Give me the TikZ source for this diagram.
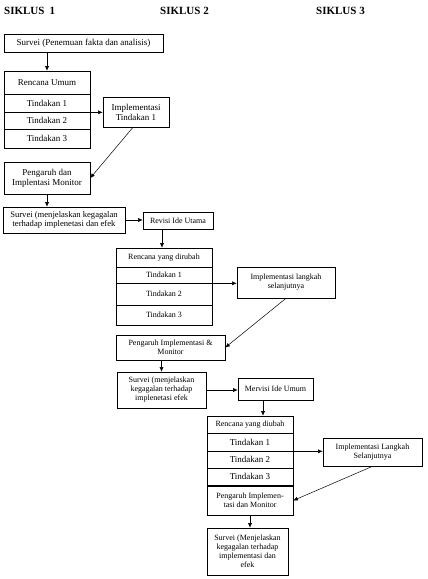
\documentclass[tikz,border=0pt]{standalone}
\usepackage{fontspec}
\setmainfont{Liberation Serif}
\usetikzlibrary{arrows.meta}
\newcommand\bx[6][]{\node[box,#1,minimum width={#4-#2},minimum height={#5-#3}] (#6) at ({(#2+#4)/2},{(#3+#5)/2})}
\begin{document}
\begin{tikzpicture}[x=1pt,y=-1pt,
  box/.style={draw, line width=0.6pt, inner sep=1pt, align=center, font=\fontsize{9}{10}\selectfont},
  sm/.style={font=\fontsize{8}{9}\selectfont},
  md/.style={font=\fontsize{8.6}{9.6}\selectfont},
  hd/.style={anchor=west, inner sep=0pt, font=\bfseries\fontsize{11}{12}\selectfont},
  arr/.style={-{Latex[length=4.5pt,width=4pt]}, line width=0.5pt}]
\useasboundingbox[fill=white] (0,0) rectangle (428,579);
% headers
\node[hd] (h1) at (4,11) {SIKLUS\hspace{5pt}1};
\node[hd] (h2) at (160,11) {SIKLUS 2};
\node[hd] (h3) at (316,11) {SIKLUS 3};
% cycle 1
\bx{4}{34}{163}{52}{s1} {Survei (Penemuan fakta dan analisis)};
\bx{4}{71}{90}{94}{ru} {Rencana Umum};
\bx{4}{94}{90}{112}{t11} {Tindakan 1};
\bx{4}{112}{90}{129}{t12} {Tindakan 2};
\bx{4}{129}{90}{148}{t13} {Tindakan 3};
\bx{103}{97}{169}{127}{it1} {Implementasi\\Tindakan 1};
\bx{4}{162}{90}{194}{pm1} {Pengaruh dan\\Implentasi Monitor};
% cycle 2
\bx[md]{3}{207}{125}{233}{sv1} {Survei (menjelaskan kegagalan\\terhadap implenetasi dan efek};
\bx[sm]{143}{212}{213}{229}{riu} {Revisi Ide Utama};
\bx[sm]{116}{248}{212}{267}{ryd2} {Rencana yang dirubah};
\bx[sm]{116}{267}{212}{283}{t21} {Tindakan 1};
\bx[sm]{116}{283}{212}{305}{t22} {Tindakan 2};
\bx[sm]{116}{305}{212}{325}{t23} {Tindakan 3};
\bx[sm]{237}{267}{335}{298}{ils2} {Implementasi langkah\\selanjutnya};
\bx[sm]{116}{335}{225}{360}{pim2} {Pengaruh Implementasi \&\\Monitor};
\bx[sm]{117}{372}{206}{408}{sv2} {Survei (menjelaskan\\kegagalan terhadap\\implenetasi efek};
\bx[sm]{238}{378}{313}{400}{miu} {Mervisi Ide Umum};
% cycle 3
\bx[sm]{207}{416}{293}{433}{ryd3} {Rencana yang diubah};
\bx{207}{433}{293}{451}{t31} {Tindakan 1};
\bx{207}{451}{293}{468}{t32} {Tindakan 2};
\bx{207}{468}{293}{485}{t33} {Tindakan 3};
\bx[sm]{207}{486}{293}{515}{pim3} {Pengaruh Implemen-\\tasi dan Monitor};
\draw[line width=1.4pt] (pim3.north west) -- (pim3.north east);
\bx[sm]{323}{438}{422}{466}{ils3} {Implementasi Langkah\\Selanjutnya};
\bx[sm]{207}{528}{288}{575}{sv3} {Survei (Menjelaskan\\kegagalan terhadap\\implementasi dan\\efek};
% connectors
\draw[arr] (s1.south -| ru) -- (ru.north);
\draw[arr] (t11.south east) -- (it1.west |- t11.south east);
\draw[arr] ([xshift=-3pt]it1.south) -- (pm1.east);
\draw[arr] (pm1.south) -- (pm1.south |- sv1.north);
\draw[arr] (sv1.east) -- (riu.west |- sv1.east);
\draw[arr] ([xshift=-16pt]riu.south) -- ([xshift=-16pt]riu.south |- ryd2.north);
\draw[arr] (t21.south east) -- (ils2.west |- t21.south east);
\draw[arr] (ils2.south) -- (pim2.east);
\draw[arr] (sv2.north |- pim2.south) -- (sv2.north);
\draw[arr] (sv2.east) -- (miu.west |- sv2.east);
\draw[arr] ([xshift=-12.5pt]miu.south) -- ([xshift=-12.5pt]miu.south |- ryd3.north);
\draw[arr] (t31.south east) -- (ils3.west |- t31.south east);
\draw[arr] (ils3.south) -- (pim3.east);
\draw[arr] (pim3.south) -- (pim3.south |- sv3.north);
\end{tikzpicture}
\end{document}
